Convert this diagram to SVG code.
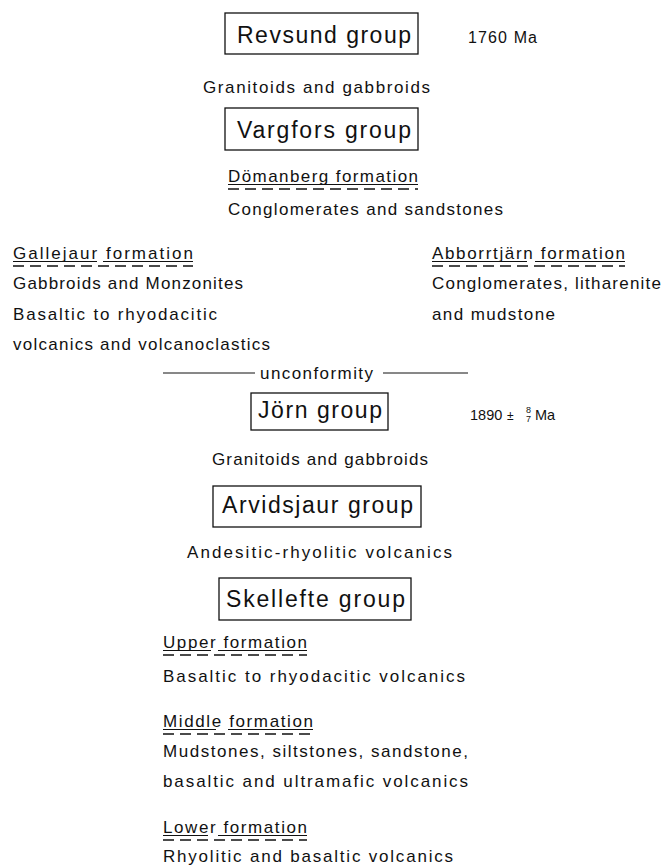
<svg xmlns="http://www.w3.org/2000/svg" width="664" height="866" viewBox="0 0 664 866">
<style>
text{font-family:"Liberation Sans","DejaVu Sans",sans-serif;fill:#111}
.t{font-size:17px}
.g{font-size:23px}
.s{font-size:16px}
.box{fill:none;stroke:#111;stroke-width:1.3}
.ul{stroke:#111;stroke-width:1;fill:none}
.dl{stroke:#111;stroke-width:1.6;fill:none;stroke-dasharray:11 6}
.ln{stroke:#111;stroke-width:1;fill:none}
</style>
<rect width="664" height="866" fill="#fff"/>
<g id="revsund">
<rect class="box" x="225" y="13" width="193" height="41"/>
<text class="g" x="237" y="43" textLength="174" lengthAdjust="spacing">Revsund group</text>
<text class="s" x="468" y="43" textLength="69" lengthAdjust="spacing">1760 Ma</text>
</g>
<g id="granitoids1"><text class="t" x="203" y="93" textLength="227" lengthAdjust="spacing">Granitoids and gabbroids</text></g>
<g id="vargfors">
<rect class="box" x="225" y="108" width="193" height="42"/>
<text class="g" x="237" y="138" textLength="174" lengthAdjust="spacing">Vargfors group</text>
</g>
<g id="domanberg">
<text class="t" x="228" y="182" textLength="190" lengthAdjust="spacing">Dömanberg formation</text>
<path class="ul" d="M228 184.5H418"/>
<path class="dl" d="M228 189H418"/>
<text class="t" x="228" y="215" textLength="275" lengthAdjust="spacing">Conglomerates and sandstones</text>
</g>
<g id="gallejaur">
<text class="t" x="13" y="259" textLength="180" lengthAdjust="spacing">Gallejaur formation</text>
<path class="ul" d="M13 261.5H97M103 261.5H193"/>
<path class="dl" d="M13 266H193"/>
<text class="t" x="13" y="289" textLength="230" lengthAdjust="spacing">Gabbroids and Monzonites</text>
<text class="t" x="13" y="320" textLength="204" lengthAdjust="spacing">Basaltic to rhyodacitic</text>
<text class="t" x="13" y="350" textLength="257" lengthAdjust="spacing">volcanics and volcanoclastics</text>
</g>
<g id="abborrtjarn">
<text class="t" x="432" y="259" textLength="193" lengthAdjust="spacing">Abborrtjärn formation</text>
<path class="ul" d="M432 261.5H527M535 261.5H625"/>
<path class="dl" d="M432 266H625"/>
<text class="t" x="432" y="289" textLength="229" lengthAdjust="spacing">Conglomerates, litharenite</text>
<text class="t" x="432" y="320" textLength="123" lengthAdjust="spacing">and mudstone</text>
</g>
<g id="unconformity">
<path class="ln" d="M163 373H255M383 373H468"/>
<text class="t" x="260" y="379" textLength="113" lengthAdjust="spacing">unconformity</text>
</g>
<g id="jorn">
<rect class="box" x="251" y="393" width="137" height="37"/>
<text class="g" x="258" y="418" textLength="124" lengthAdjust="spacing">Jörn group</text>
<text x="470" y="420" style="font-size:14.5px">1890</text>
<text x="507" y="420" style="font-size:12px">±</text>
<text x="526" y="413" style="font-size:9px">8</text>
<text x="526" y="422" style="font-size:9px">7</text>
<text x="535" y="420" style="font-size:14.5px">Ma</text>
</g>
<g id="granitoids2"><text class="t" x="212" y="465" textLength="216" lengthAdjust="spacing">Granitoids and gabbroids</text></g>
<g id="arvidsjaur">
<rect class="box" x="213" y="486" width="208" height="41"/>
<text class="g" x="222" y="513" textLength="191" lengthAdjust="spacing">Arvidsjaur group</text>
<text class="t" x="187" y="558" textLength="265" lengthAdjust="spacing">Andesitic-rhyolitic volcanics</text>
</g>
<g id="skellefte">
<rect class="box" x="219" y="578" width="192" height="42"/>
<text class="g" x="226" y="607" textLength="179" lengthAdjust="spacing">Skellefte group</text>
</g>
<g id="upper">
<text class="t" x="163" y="648" textLength="144" lengthAdjust="spacing">Upper formation</text>
<path class="ul" d="M163 650.5H211M218 650.5H307"/>
<path class="dl" d="M163 655H307"/>
<text class="t" x="163" y="682" textLength="302" lengthAdjust="spacing">Basaltic to rhyodacitic volcanics</text>
</g>
<g id="middle">
<text class="t" x="163" y="727" textLength="150" lengthAdjust="spacing">Middle formation</text>
<path class="ul" d="M163 729.5H216M228 729.5H313"/>
<path class="dl" d="M163 734H313"/>
<text class="t" x="163" y="757" textLength="305" lengthAdjust="spacing">Mudstones, siltstones, sandstone,</text>
<text class="t" x="163" y="787" textLength="305" lengthAdjust="spacing">basaltic and ultramafic volcanics</text>
</g>
<g id="lower">
<text class="t" x="163" y="833" textLength="144" lengthAdjust="spacing">Lower formation</text>
<path class="ul" d="M163 835.5H208M218 835.5H307"/>
<path class="dl" d="M163 840H307"/>
<text class="t" x="163" y="862" textLength="290" lengthAdjust="spacing">Rhyolitic and basaltic volcanics</text>
</g>
</svg>
